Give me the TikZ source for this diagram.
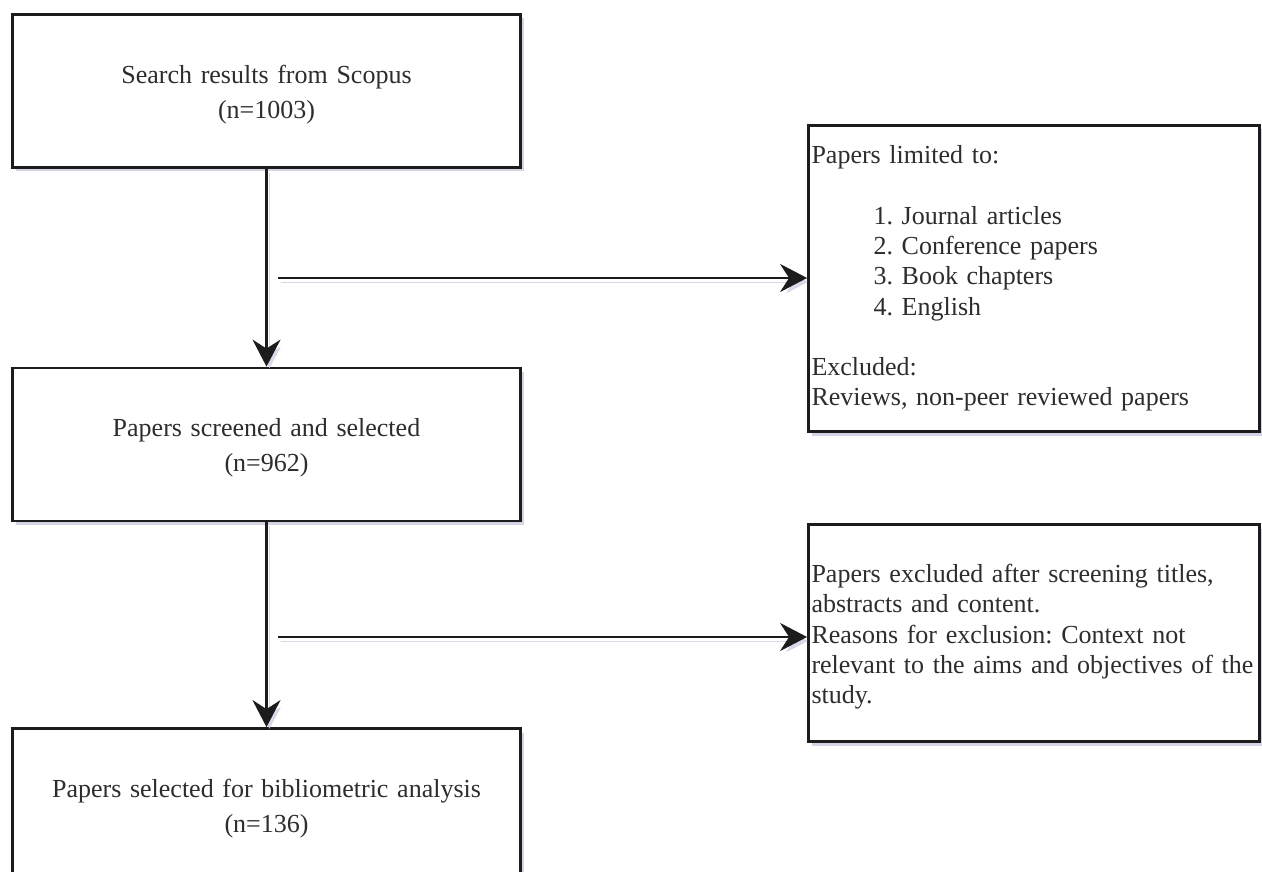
\documentclass[tikz,border=0pt]{standalone}
\usepackage{fontspec}
\setmainfont{Liberation Serif}
\usetikzlibrary{arrows.meta,shadows}
\definecolor{shadowcol}{RGB}{200,203,224}
\definecolor{inkcol}{RGB}{28,28,28}
\definecolor{textcol}{RGB}{45,45,45}
\frenchspacing
\begin{document}
\begin{tikzpicture}[x=1pt,y=-1pt,
  box/.style={draw=inkcol, line width=2.8pt, fill=white, inner sep=0pt,
    drop shadow={shadow xshift=3pt, shadow yshift=-4pt, fill=shadowcol, opacity=0.8}},
  mainbox/.style={box, minimum width=508pt, minimum height=153pt, text width=500pt,
    align=center, font=\frenchspacing\fontsize{26}{35}\selectfont, text=textcol},
  sidebox/.style={box, inner xsep=3pt, text width=445pt, align=left,
    font=\frenchspacing\fontsize{26}{30.25}\selectfont, text=textcol},
  lineshadow/.style={preaction={draw=shadowcol, opacity=0.7, transform canvas={xshift=3pt,yshift=-4pt}}},
  arr/.style={draw=inkcol, line width=2.6pt, lineshadow,
    -{Stealth[length=27pt,width=28pt,inset=9pt]}}
]
\useasboundingbox (0,0) rectangle (1262,872);
\clip (0,0) rectangle (1262,872);
\fill[white] (0,0) rectangle (1262,872);

% main column
\node[mainbox] (b1) at (266.5,91) {\rule{0pt}{25pt}Search results from Scopus\\(n=1003)};
\node[mainbox] (b2) at (266.5,444.5) {\rule{0pt}{25pt}Papers screened and selected\\(n=962)};
\node[mainbox] (b3) at (266.5,805) {\rule{0pt}{25pt}Papers selected for bibliometric analysis\\(n=136)};

% side boxes
\node[sidebox, minimum height=306pt] (bA) at (1034,278.5) {Papers limited to:\\[30.25pt]
\hspace*{62pt}1. Journal articles\\
\hspace*{62pt}2. Conference papers\\
\hspace*{62pt}3. Book chapters\\
\hspace*{62pt}4. English\\[30.25pt]
Excluded:\\
Reviews, non-peer reviewed papers};
\node[sidebox, minimum height=217pt] (bB) at (1034,633) {\rule{0pt}{26pt}Papers excluded after screening titles,\\
abstracts and content.\\
Reasons for exclusion: Context not\\
relevant to the aims and objectives of the\\
study.};

% connectors
\coordinate (f1) at (278,278);
\coordinate (f2) at (278,637);
\draw[arr] (b1) -- (b2);
\draw[arr] (b2) -- (b3);
\draw[arr] (f1) -- (f1 -| bA.west);
\draw[arr] (f2) -- (f2 -| bB.west);
\end{tikzpicture}
\end{document}
